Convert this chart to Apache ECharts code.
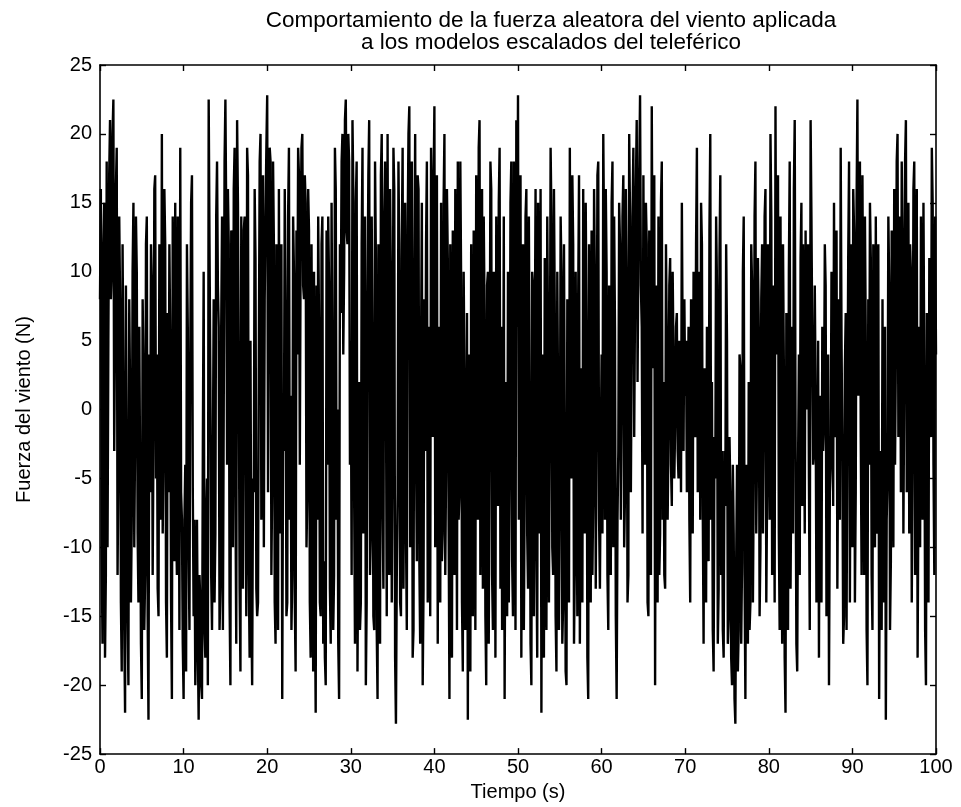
<!DOCTYPE html>
<html>
<head>
<meta charset="utf-8">
<script src="https://cdn.jsdelivr.net/npm/echarts@6/dist/echarts.min.js"></script>
<style>
  html, body { margin: 0; padding: 0; background: #fff; }
  #chart { width: 961px; height: 807px; }
</style>
</head>
<body>
<div id="chart"></div>
<script>
// muestras cada 0.1 s: f = instantes pares (0, 0.2, ...), g = instantes impares (0.1, 0.3, ...)
const dt = 0.1;
const f00 = [8,-10,12,-18,18, 5,21,10,22.5,6, 19,-4,8,-19,2, -22,-3,-20,1,-8, 15,-2,10,-14,-5,
  -21,3,-12,14,-22.5, -6,9,-2,17,4, -15,8,20,-3,12, -18,-6,5,-21,6, 15,-12,2,19,-8];
const g00 = [16,-17,15,-12,-10, 17,8,20,-3,16, -12,14,-14,12,-16, 9,-15,8,-14,10, -10,14,-9,6,-17,
  8,-16,12,-15,4, 12,-12,16,-5,-13, 12,-8,-9,16,-14, 7,12,-14,14,-11, -8,14,-16,-6,-17];
const f10 = [-21,-4,12,-10,4, 17,-15,-20,-8,-22.5, -14,-21,10,-18,-5, 22.5,2,-16,8,-9, 18,6,-13,14,0,
  22.5,-4,12,-20,9, 16,-6,21,3,-19, -7,13,-2,19,-12, 5,-20,-6,11,-15, 4,20,9,-10,14];
const g10 = [-8,-19,6,-16,15, -6,-8,-15,-17,-12, -20,-3,-16,-8,-20, 12,-12,-4,-14,14, 9,-16,6,-16,18,
  14,16,-14,13,-10, 19,-17,15,-13,14, -13,14,-15,17,-18, -14,-5,16,-13,-14, 18,-8,17,8,19];
const f20 = [22.8,8,18,-5,12, -17,2,16,-9,-21, -3,7,-14,19,1, -12,10,-19,4,17, 12,20,8,15,-6,
  13,-18,-2,10,-22, -8,6,-15,14,-11, -20,-4,9,-17,3, -12,16,0,-21,7, 20,10,22.5,12,18];
const g20 = [-6,19,-12,18,-14, 12,-16,-6,12,-2, 16,-15,14,-8,-16, 14,-14,13,19,-4, 19,9,17,-10,16,
  -14,12,-19,-13,9, 14,-14,12,-17,-18, 13,14,-13,15,-16, 19,-8,-17,12,18, 4,21,13,20,-4];
const f30 = [5,21,-6,15,-19, 2,-14,19,-3,-20, 8,21,-9,4,-16, 11,-21,0,17,-7, 14,3,20,-12,9,
  -4,16,-22.8,-6,11, -15,19,2,-9,13, 22,5,-18,10,-3, 17,-11,4,-20,8, 12,-14,6,19,-2];
const g30 = [-12,16,-17,18,-8, -16,12,-9,14,-14, 17,-12,14,-15,18, -16,12,-17,20,-13, 18,-15,-2,16,-14,
  19,-18,-12,18,-14, 12,-13,15,-16,20, -10,18,-16,20,-11, 16,-17,15,-13,-3, 18,-6,-15,14,16];
const f40 = [22,8,-17,3,15, -9,20,-4,11,-21, 1,13,-12,6,18, -6,9,-19,2,-10, -22.5,-5,12,-15,4,
  17,-8,21,1,-13, 7,-20,10,-2,16, -16,3,14,-7,19, 6,-11,-21,2,10, -5,18,-15,8,21];
const g40 = [-10,17,6,-14,-11, 15,-12,16,-8,12, -18,-9,16,-16,-8, 18,-14,10,-16,7, 4,-19,-6,13,-16,
  6,19,-12,16,14, -15,9,-17,18,-12, 10,-18,-5,15,-13, -16,14,-4,-15,-14, 15,-11,18,-16,6];
const f50 = [22.8,4,-18,12,-6, 16,-13,0,-20,9, 3,-10,15,-4,-22, -8,11,-16,5,-2, 14,-12,7,-19,0,
  -7,10,-14,-3,-20, 2,19,-5,12,-11, -4,8,-17,3,16, -9,6,-21,1,13, -6,9,-2,18,-13];
const g50 = [-8,17,4,-16,14, -9,14,-17,10,-15, 16,-18,-9,16,4, -18,-5,14,-14,19, -10,16,-15,10,-16,
  14,-17,12,-19,8, -14,-2,17,-17,10, -15,17,-2,-14,-6, 15,-18,12,-14,-12, 16,-13,17,-8,-3];
const f60 = [4,20,-8,10,-16, 2,15,-10,6,-21, -3,12,1,17,-6, 9,-12,14,5,19, 8,21,11,22.8,6,
  17,-4,12,-15,8, 22,3,-20,7,14, -9,18,2,-13,5, -2,11,-7,4,-1, 7,-5,2,15,-3];
const g60 = [-9,12,16,-12,9, -12,18,14,-15,-8, 15,-8,14,-10,16, -14,20,-6,14,-2, 16,2,17,9,-9,
  2,15,-14,13,-12, 8,17,9,-14,-12, 15,-8,-12,12,-8, 9,-4,10,-5,6, -3,5,-6,4,8];
const f70 = [1,-6,6,-14,0, 10,-2,19,3,-8, 12,-17,-4,6,-11, 20,2,-19,-5,9, -13,17,-3,-18,-7,
  5,-15,-6,-20,-9, -22.8,-4,-16,3,-11, 14,-21,-8,2,-14, 9,-5,18,-3,6, -10,12,-1,16,-6];
const g70 = [5,-2,-8,8,-9, 4,12,-6,10,15, -7,3,-14,-9,13, -8,-16,-2,14,-17, 11,-12,-16,-3,12,
  -17,-2,-18,-4,-21, -11,-19,4,-17,10, -12,-4,-17,-16,12, -14,14,-9,11,-15, 8,-9,14,-14,12];
const f80 = [4,20,-12,1,22, 8,-9,14,-17,3, -22,-6,10,-13,6, 16,-2,-19,4,11, -7,2,13,0,-5,
  21,5,-3,1,-10, -18,-2,6,-1,9, -6,-20,-4,3,15, 2,-13,8,19,-3, -15,7,-1,18,4];
const g80 = [-8,14,9,-14,4, 17,-16,-6,12,-18, 7,-16,18,-4,-9, 21,-17,-4,-12,15, 12,-9,4,12,-16,
  14,-4,9,-14,5, 1,-14,-3,12,-15, 4,-6,10,-7,-2, 13,-2,-8,5,-17, 3,-16,11,-14,12];
const f90 = [-10,13,-6,22.5,9, -2,17,-12,5,-20, -4,11,-16,2,14, -8,-21,-3,8,-14, -22.5,-5,9,-11,3,
  16,4,20,6,-6, 12,2,21,5,-9, 10,-3,18,1,-18, 6,14,-8,3,-20, 2,11,-2,15,-12, 4];
const g90 = [16,-14,15,1,18, -12,3,14,-16,8, 15,-12,12,-10,-9, 12,-6,-16,-12,6, -8,14,-16,13,-10,
  -4,18,-2,14,18, -9,18,-6,15,12, -14,16,-12,16,-6, -10,2,15,-16,7, -14,4,19,-4,14];

const pares = [f00, f10, f20, f30, f40, f50, f60, f70, f80, f90];
const impares = [g00, g10, g20, g30, g40, g50, g60, g70, g80, g90];
const fuerza = [];
pares.forEach((f, k) => {
  for (let i = 0; i < 50; i++) fuerza.push(f[i], impares[k][i]);
});
fuerza.push(f90[50]);
const puntos = fuerza.map((v, i) => [+(i * dt).toFixed(1), v]);

const chart = echarts.init(document.getElementById('chart'));
const fuente = '"Liberation Sans", Arial, sans-serif';
const ejeX = {
  type: 'value', min: 0, max: 100, interval: 10,
  axisLine: { onZero: false, lineStyle: { color: '#000', width: 1.6 } },
  axisTick: { inside: true, length: 6, lineStyle: { color: '#000', width: 1.4 } },
  splitLine: { show: false }
};
const ejeY = {
  type: 'value', min: -25, max: 25, interval: 5,
  axisLine: { show: true, onZero: false, lineStyle: { color: '#000', width: 1.6 } },
  axisTick: { show: true, inside: true, length: 6, lineStyle: { color: '#000', width: 1.4 } },
  splitLine: { show: false }
};

chart.setOption({
  backgroundColor: '#fff',
  animation: false,
  title: {
    text: 'Comportamiento de la fuerza aleatora del viento aplicada\na los modelos escalados del teleférico',
    left: 546, top: 5, textAlign: 'center',
    textStyle: { fontFamily: fuente, fontSize: 22.5, fontWeight: 'normal', color: '#000', lineHeight: 22 }
  },
  grid: { left: 100, right: 25, top: 65, bottom: 48 },
  xAxis: [
    Object.assign({}, ejeX, {
      position: 'bottom',
      name: 'Tiempo (s)', nameLocation: 'middle', nameGap: 27,
      nameTextStyle: { fontFamily: fuente, fontSize: 20, color: '#000' },
      axisLabel: { fontFamily: fuente, fontSize: 20, color: '#000', margin: 3 }
    }),
    Object.assign({}, ejeX, { position: 'top', axisLabel: { show: false } })
  ],
  yAxis: [
    Object.assign({}, ejeY, {
      position: 'left',
      name: 'Fuerza del viento (N)', nameLocation: 'middle', nameGap: 66,
      nameTextStyle: { fontFamily: fuente, fontSize: 20, color: '#000' },
      axisLabel: { fontFamily: fuente, fontSize: 20, color: '#000', margin: 8 }
    }),
    Object.assign({}, ejeY, { position: 'right', axisLabel: { show: false } })
  ],
  series: [{
    type: 'line',
    data: puntos,
    showSymbol: false,
    sampling: null,
    lineStyle: { color: '#000', width: 2.4 },
    emphasis: { disabled: true }
  }]
});
</script>
</body>
</html>
